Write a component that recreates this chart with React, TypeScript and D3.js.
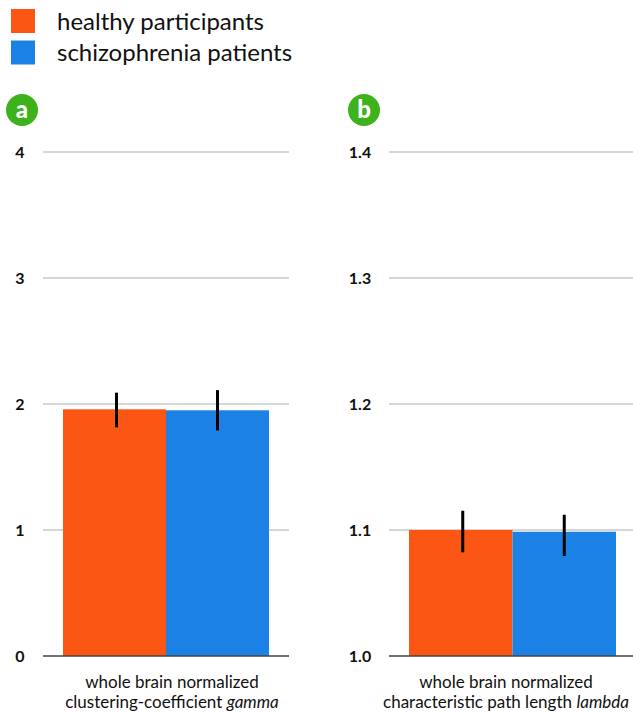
import React from "react";
import * as d3 from "d3";

const groups = ["healthy participants", "schizophrenia patients"];
const colors = ["#fb5614", "#1c81e4"];

const gammaMeans = [1.958, 1.95];
const gammaLow = [1.815, 1.79];
const gammaHigh = [2.09, 2.11];
const gammaTicks = [0, 1, 2, 3, 4];
const gammaTickLabels = ["0", "1", "2", "3", "4"];

const lambdaMeans = [1.1, 1.0986];
const lambdaLow = [1.0823, 1.0794];
const lambdaHigh = [1.1153, 1.1121];
const lambdaTicks = [1.0, 1.1, 1.2, 1.3, 1.4];
const lambdaTickLabels = ["1.0", "1.1", "1.2", "1.3", "1.4"];

const FONT = "Lato, 'Open Sans', sans-serif";

type PanelProps = {
  letter: string;
  badgeX: number;
  labelX: number;
  gridX0: number;
  gridX1: number;
  barX0: number;
  barX1: number;
  textX: number;
  domain: [number, number];
  ticks: number[];
  tickLabels: string[];
  means: number[];
  low: number[];
  high: number[];
  line1: string;
  line2: string;
  italic: string;
};

function Panel(p: PanelProps) {
  const y = d3.scaleLinear().domain(p.domain).range([656, 152]);
  const x = d3.scaleBand<string>().domain(groups).range([p.barX0, p.barX1]).padding(0);
  return (
    <g>
      <circle cx={p.badgeX} cy={110} r={16} fill="#3cb21c" />
      <text
        x={p.badgeX}
        y={118}
        textAnchor="middle"
        fontFamily={FONT}
        fontWeight={900}
        fontSize={24}
        fill="#fff"
      >
        {p.letter}
      </text>
      {p.ticks.map((t, i) => (
        <g key={i}>
          {i > 0 && (
            <line x1={p.gridX0} x2={p.gridX1} y1={y(t)} y2={y(t)} stroke="#c8c8c8" strokeWidth={1.5} />
          )}
          <text
            x={p.labelX}
            y={y(t) + 5.5}
            textAnchor="middle"
            fontFamily={FONT}
            fontWeight={700}
            fontSize={16}
            fill="#111"
          >
            {p.tickLabels[i]}
          </text>
        </g>
      ))}
      {groups.map((g, i) => (
        <rect
          key={g}
          x={x(g)!}
          y={y(p.means[i])}
          width={x.bandwidth()}
          height={y(p.domain[0]) - y(p.means[i])}
          fill={colors[i]}
        />
      ))}
      {groups.map((g, i) => (
        <line
          key={"e" + g}
          x1={x(g)! + x.bandwidth() / 2 + (i === 0 ? 2 : 0)}
          x2={x(g)! + x.bandwidth() / 2 + (i === 0 ? 2 : 0)}
          y1={y(p.high[i])}
          y2={y(p.low[i])}
          stroke="#000"
          strokeWidth={3}
        />
      ))}
      <line x1={p.gridX0} x2={p.gridX1} y1={y(p.domain[0])} y2={y(p.domain[0])} stroke="#444" strokeWidth={1.5} />
      <text x={p.textX} y={688} textAnchor="middle" fontFamily={FONT} fontSize={17} fill="#111">
        {p.line1}
      </text>
      <text x={p.textX} y={708} textAnchor="middle" fontFamily={FONT} fontSize={17} fill="#111">
        {p.line2}
        <tspan fontStyle="italic">{p.italic}</tspan>
      </text>
    </g>
  );
}

export default function App() {
  return (
    <svg width={633} height={713} style={{ position: "absolute", left: 0, top: 0 }}>
      <rect width={633} height={713} fill="#fff" />
      {groups.map((g, i) => (
        <g key={g}>
          <rect x={11} y={9 + i * 31.5} width={24} height={24} fill={colors[i]} />
          <text x={57} y={29.5 + i * 31.5} fontFamily={FONT} fontSize={24} fill="#111">
            {g}
          </text>
        </g>
      ))}
      <Panel
        letter="a"
        badgeX={22}
        labelX={20}
        gridX0={43}
        gridX1={289}
        barX0={63}
        barX1={269}
        textX={172}
        domain={[0, 4]}
        ticks={gammaTicks}
        tickLabels={gammaTickLabels}
        means={gammaMeans}
        low={gammaLow}
        high={gammaHigh}
        line1="whole brain normalized"
        line2="clustering-coefficient "
        italic="gamma"
      />
      <Panel
        letter="b"
        badgeX={364}
        labelX={360}
        gridX0={389}
        gridX1={633}
        barX0={409}
        barX1={616}
        textX={506}
        domain={[1.0, 1.4]}
        ticks={lambdaTicks}
        tickLabels={lambdaTickLabels}
        means={lambdaMeans}
        low={lambdaLow}
        high={lambdaHigh}
        line1="whole brain normalized"
        line2="characteristic path length "
        italic="lambda"
      />
    </svg>
  );
}
